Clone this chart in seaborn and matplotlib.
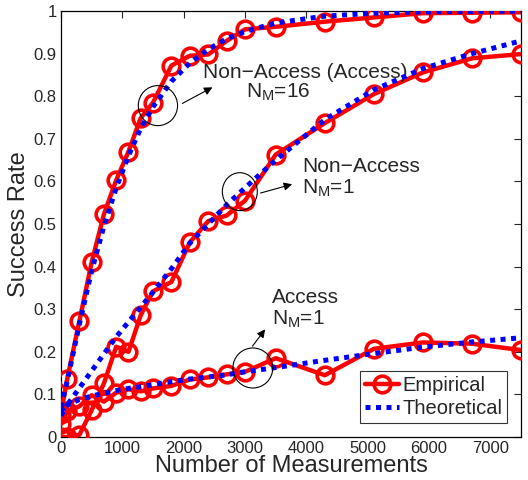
import numpy as np
import pandas as pd
import matplotlib
matplotlib.use("Agg")
import matplotlib.pyplot as plt
import seaborn as sns
from matplotlib.patches import Ellipse
from matplotlib.lines import Line2D

# measurement counts (same grid for all curves)
n_meas = [0, 100, 300, 500, 700, 900, 1100, 1300, 1500, 1800, 2100,
          2400, 2700, 3000, 3500, 4300, 5100, 5900, 6700, 7500]

# empirical success rates
emp_nonaccess_16 = [0.055, 0.135, 0.272, 0.41, 0.523, 0.603, 0.67, 0.749, 0.785, 0.872, 0.895,
                    0.898, 0.93, 0.957, 0.963, 0.975, 0.985, 0.995, 0.996, 0.997]
emp_nonaccess_1 = [0.0, 0.0, 0.005, 0.063, 0.126, 0.212, 0.2, 0.286, 0.342, 0.364, 0.457,
                   0.507, 0.52, 0.555, 0.663, 0.737, 0.805, 0.856, 0.889, 0.899]
emp_access_1 = [0.03, 0.06, 0.072, 0.098, 0.083, 0.104, 0.112, 0.107, 0.114, 0.12, 0.135,
                0.14, 0.147, 0.153, 0.185, 0.145, 0.207, 0.222, 0.219, 0.204]

# theoretical success rates
th_nonaccess_16 = [0.07, 0.13, 0.265, 0.39, 0.495, 0.585, 0.66, 0.725, 0.775, 0.835, 0.878,
                   0.91, 0.935, 0.952, 0.972, 0.988, 0.995, 0.998, 0.999, 1.0]
th_nonaccess_1 = [0.06, 0.075, 0.115, 0.155, 0.195, 0.235, 0.27, 0.305, 0.34, 0.395, 0.455,
                  0.5, 0.545, 0.585, 0.65, 0.745, 0.815, 0.865, 0.9, 0.93]
th_access_1 = [0.05, 0.075, 0.088, 0.096, 0.103, 0.109, 0.114, 0.118, 0.123, 0.13, 0.136,
               0.141, 0.146, 0.153, 0.163, 0.18, 0.196, 0.211, 0.223, 0.233]

sns.set_style("white")
plt.rcParams['font.family'] = ['Liberation Sans', 'DejaVu Sans']
plt.rcParams['mathtext.default'] = 'regular'

fig = plt.figure(figsize=(5.28, 4.8), dpi=100)
ax = fig.add_axes([0.1155, 0.0896, 0.8715, 0.8874])

red = '#ff0000'
blue = '#0000ff'

for y in [emp_nonaccess_16, emp_nonaccess_1, emp_access_1]:
    df = pd.DataFrame({'n': n_meas, 'rate': y})
    sns.lineplot(data=df, x='n', y='rate', ax=ax, color=red, lw=3.2,
                 marker='o', markersize=12, markerfacecolor='none',
                 markeredgecolor=red, markeredgewidth=2.6, zorder=3)

for y in [th_nonaccess_16, th_nonaccess_1, th_access_1]:
    df = pd.DataFrame({'n': n_meas, 'rate': y})
    sns.lineplot(data=df, x='n', y='rate', ax=ax, color=blue, lw=3.6,
                 dashes=False, zorder=4)
for line in ax.lines[3:]:
    line.set_dashes((1.0, 1.1))

# annotations
for (cx, cy, w, h) in [(1580, 0.778, 640, 0.094), (2915, 0.576, 570, 0.089), (3127, 0.162, 650, 0.094)]:
    ax.add_patch(Ellipse((cx, cy), w, h, fill=False, ec='black', lw=0.8, zorder=5))

ax.annotate('', xy=(2508, 0.824), xytext=(1938, 0.78),
            arrowprops=dict(arrowstyle='-|>', color='black', lw=0.8, mutation_scale=12))
ax.annotate('', xy=(3811, 0.595), xytext=(3208, 0.571),
            arrowprops=dict(arrowstyle='-|>', color='black', lw=0.8, mutation_scale=12))
ax.annotate('', xy=(3355, 0.258), xytext=(3094, 0.208),
            arrowprops=dict(arrowstyle='-|>', color='black', lw=0.8, mutation_scale=12))

fs = 15
ax.text(2313, 0.855, 'Non\u2212Access (Access)', fontsize=fs, va='center')
ax.text(3013, 0.81, 'N$_M$=16', fontsize=fs, va='center')
ax.text(3925, 0.635, 'Non\u2212Access', fontsize=fs, va='center')
ax.text(3925, 0.583, 'N$_M$=1', fontsize=fs, va='center')
ax.text(3436, 0.328, 'Access', fontsize=fs, va='center')
ax.text(3436, 0.277, 'N$_M$=1', fontsize=fs, va='center')

ax.set_xlim(0, 7500)
ax.set_ylim(0, 1)
ax.set_xticks(range(0, 7001, 1000))
ax.set_yticks(np.round(np.arange(0, 1.01, 0.1), 1))
ax.set_yticklabels(['0'] + ['%.1f' % v for v in np.arange(0.1, 0.95, 0.1)] + ['1'])
ax.tick_params(direction='in', top=True, right=True, length=5, width=0.8,
               labelsize=12, pad=3)
for s in ax.spines.values():
    s.set_color('black')
    s.set_linewidth(0.9)

ax.set_xlabel('Number of Measurements', fontsize=17, labelpad=-1)
ax.set_ylabel('Success Rate', fontsize=17, labelpad=3)

handles = [Line2D([], [], color=red, lw=3.2, marker='o', markersize=12,
                  markerfacecolor='none', markeredgewidth=2.6),
           Line2D([], [], color=blue, lw=3.6, dashes=(1.0, 1.1))]
leg = ax.legend(handles, ['Empirical', 'Theoretical'], loc='lower right',
                bbox_to_anchor=(0.97, 0.033), borderaxespad=0, fontsize=14.5,
                frameon=True, fancybox=False, handlelength=1.7, handletextpad=0.15,
                borderpad=0.25, labelspacing=0.2)
leg.get_frame().set_edgecolor('black')
leg.get_frame().set_linewidth(0.8)

fig.savefig('out.png', dpi=100)
